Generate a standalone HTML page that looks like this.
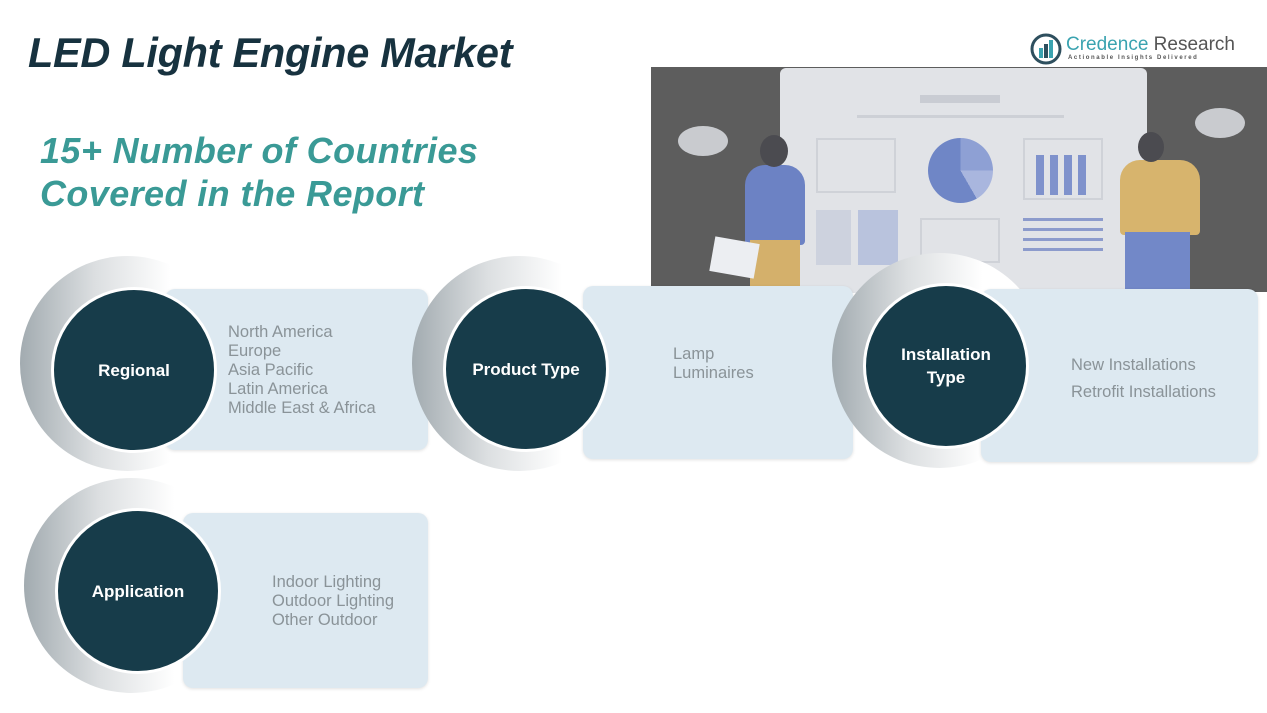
<!DOCTYPE html>
<html><head><meta charset="utf-8"><style>
*{margin:0;padding:0;box-sizing:border-box}
body{width:1267px;height:713px;background:#fff;position:relative;overflow:hidden;font-family:"Liberation Sans",sans-serif}
.a{position:absolute}
.title{left:28px;top:29px;font-size:41.5px;font-weight:bold;font-style:italic;color:#17323f;letter-spacing:-0.3px}
.sub{left:40px;top:129px;font-size:36px;font-weight:bold;font-style:italic;color:#3a9a96;line-height:43px;letter-spacing:0.4px}
.box{position:absolute;background:#dde9f1;border-radius:10px;box-shadow:0 1px 3px rgba(0,0,0,.12)}
.cres{position:absolute;border-radius:50%;background:linear-gradient(90deg,#a2abb0 0%,#dcdfe1 35%,#fff 70%)}
.circ{position:absolute;border-radius:50%;background:#173c4a;border:3px solid #fff;color:#fff;font-weight:bold;font-size:17px;display:flex;align-items:center;justify-content:center;text-align:center;line-height:23px}
.txt{position:absolute;color:#8a9398;font-size:16.5px;line-height:19px}
</style></head><body>
<div class="a title">LED Light Engine Market</div>
<div class="a sub">15+ Number of Countries<br>Covered in the Report</div>

<svg class="a" style="left:1030px;top:33px" width="32" height="32" viewBox="0 0 32 32"><circle cx="16" cy="16" r="14" fill="none" stroke="#2e4f5e" stroke-width="3"/><rect x="9" y="15" width="4" height="10" fill="#3aa3b0"/><rect x="14" y="11" width="4" height="14" fill="#2e4f5e"/><rect x="19" y="7" width="4" height="18" fill="#3aa3b0"/></svg>
<div class="a" style="left:1066px;top:34px;font-size:19px;color:#3aa3b0">Credence <span style="color:#555">Research</span></div>
<div class="a" style="left:1068px;top:55px;font-size:6px;letter-spacing:1.6px;color:#555;font-weight:bold">Actionable Insights Delivered</div>

<div class="a" style="left:651px;top:67px;width:616px;height:225px;background:#5d5d5d"></div>
<div class="a" style="left:780px;top:68px;width:367px;height:225px;background:#e1e3e7;border-radius:6px 6px 0 0"></div>
<div class="a" style="left:920px;top:95px;width:80px;height:8px;background:#c9ccd3"></div>
<div class="a" style="left:857px;top:115px;width:207px;height:3px;background:#cdd0d6"></div>
<div class="a" style="left:816px;top:138px;width:80px;height:55px;border:2px solid #cfd2d8"></div>
<div class="a" style="left:928px;top:138px;width:65px;height:65px;border-radius:50%;background:conic-gradient(#8ea0d4 0 90deg,#a9b6de 90deg 150deg,#6f86c6 150deg 360deg)"></div>
<div class="a" style="left:1023px;top:138px;width:80px;height:62px;border:2px solid #cfd2d8"></div>
<div class="a" style="left:1036px;top:155px;width:52px;height:40px;background:repeating-linear-gradient(90deg,#7f92cc 0 8px,transparent 8px 14px)"></div>
<div class="a" style="left:816px;top:210px;width:35px;height:55px;background:#cdd2de"></div>
<div class="a" style="left:858px;top:210px;width:40px;height:55px;background:#b9c3dd"></div>
<div class="a" style="left:920px;top:218px;width:80px;height:45px;border:2px solid #cfd2d8"></div>
<div class="a" style="left:1023px;top:218px;width:80px;height:40px;background:repeating-linear-gradient(180deg,#8c9bcc 0 3px,transparent 3px 10px)"></div>
<div class="a" style="left:745px;top:165px;width:60px;height:80px;background:#6c82c4;border-radius:20px 20px 4px 4px"></div>
<div class="a" style="left:760px;top:135px;width:28px;height:32px;background:#4b4b50;border-radius:50%"></div>
<div class="a" style="left:750px;top:240px;width:50px;height:52px;background:#d4b06b"></div>
<div class="a" style="left:712px;top:240px;width:45px;height:35px;background:#eceef2;transform:rotate(10deg)"></div>
<div class="a" style="left:1120px;top:160px;width:80px;height:75px;background:#d7b46d;border-radius:20px 20px 4px 4px"></div>
<div class="a" style="left:1138px;top:132px;width:26px;height:30px;background:#4b4b50;border-radius:50%"></div>
<div class="a" style="left:1125px;top:232px;width:65px;height:60px;background:#7288c8"></div>
<div class="a" style="left:678px;top:126px;width:50px;height:30px;background:#c9cbcf;border-radius:50%"></div>
<div class="a" style="left:1195px;top:108px;width:50px;height:30px;background:#c9cbcf;border-radius:50%"></div>

<div class="cres" style="left:20px;top:256px;width:215px;height:215px"></div>
<div class="box" style="left:165px;top:289px;width:263px;height:161px"></div>
<div class="circ" style="left:51px;top:287px;width:166px;height:166px">Regional</div>
<div class="txt" style="left:228px;top:323px">North America<br>Europe<br>Asia Pacific<br>Latin America<br>Middle East &amp; Africa</div>

<div class="cres" style="left:412px;top:256px;width:215px;height:215px"></div>
<div class="box" style="left:583px;top:286px;width:270px;height:173px"></div>
<div class="circ" style="left:443px;top:286px;width:166px;height:166px">Product Type</div>
<div class="txt" style="left:673px;top:345px">Lamp<br>Luminaires</div>

<div class="cres" style="left:832px;top:253px;width:215px;height:215px"></div>
<div class="box" style="left:981px;top:289px;width:277px;height:173px"></div>
<div class="circ" style="left:863px;top:283px;width:166px;height:166px">Installation<br>Type</div>
<div class="txt" style="left:1071px;top:352px;line-height:27px">New Installations<br>Retrofit Installations</div>

<div class="cres" style="left:24px;top:478px;width:215px;height:215px"></div>
<div class="box" style="left:183px;top:513px;width:245px;height:175px"></div>
<div class="circ" style="left:55px;top:508px;width:166px;height:166px">Application</div>
<div class="txt" style="left:272px;top:573px">Indoor Lighting<br>Outdoor Lighting<br>Other Outdoor</div>
</body></html>
